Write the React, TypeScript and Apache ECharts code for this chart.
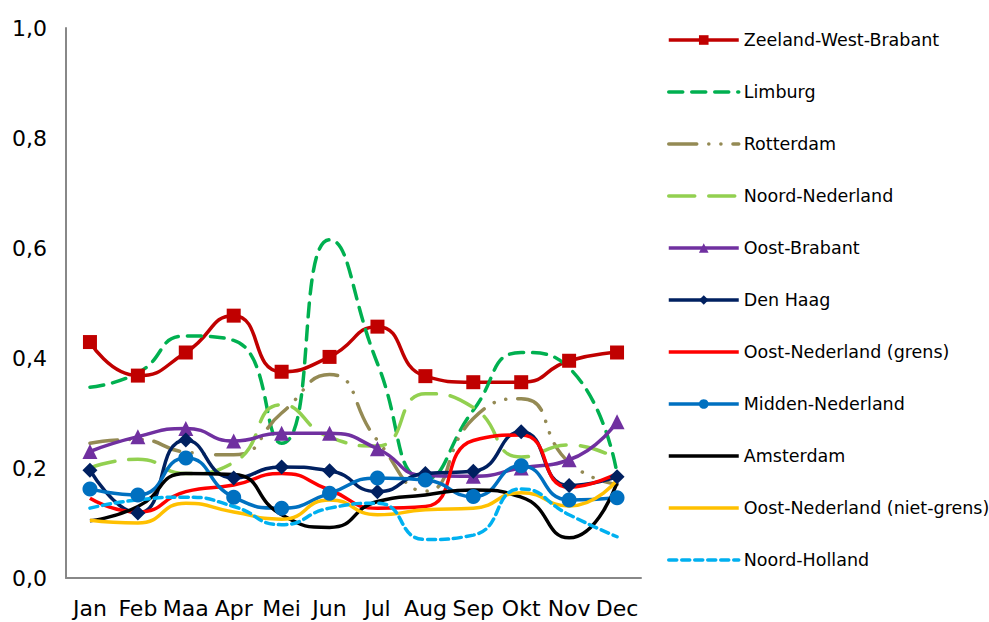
import React, { useEffect, useRef } from "react";
import * as echarts from "echarts";

const months = ["Jan", "Feb", "Maa", "Apr", "Mei", "Jun", "Jul", "Aug", "Sep", "Okt", "Nov", "Dec"];

const zeelandWestBrabant = [0.429, 0.368, 0.41, 0.477, 0.375, 0.402, 0.457, 0.367, 0.356, 0.356, 0.395, 0.41];
const limburg = [0.347, 0.373, 0.44, 0.432, 0.245, 0.615, 0.39, 0.18, 0.305, 0.41, 0.382, 0.19];
const rotterdam = [0.245, 0.252, 0.229, 0.224, 0.3, 0.37, 0.25, 0.158, 0.29, 0.326, 0.21, 0.17];
const noordNederland = [0.2, 0.216, 0.19, 0.21, 0.315, 0.256, 0.24, 0.335, 0.31, 0.22, 0.242, 0.216];
const oostBrabant = [0.23, 0.257, 0.272, 0.249, 0.263, 0.263, 0.235, 0.186, 0.185, 0.2, 0.215, 0.284];
const denHaag = [0.196, 0.118, 0.251, 0.182, 0.202, 0.195, 0.157, 0.19, 0.194, 0.266, 0.168, 0.184];
const oostNederlandGrens = [0.145, 0.12, 0.157, 0.169, 0.19, 0.16, 0.127, 0.13, 0.25, 0.26, 0.165, 0.19];
const middenNederland = [0.162, 0.151, 0.218, 0.147, 0.127, 0.154, 0.182, 0.178, 0.148, 0.204, 0.142, 0.146];
const amsterdam = [0.104, 0.13, 0.19, 0.188, 0.115, 0.092, 0.139, 0.151, 0.16, 0.147, 0.073, 0.173];
const oostNederlandNietGrens = [0.105, 0.1, 0.136, 0.12, 0.107, 0.142, 0.115, 0.124, 0.127, 0.155, 0.131, 0.178];
const noordHolland = [0.127, 0.142, 0.147, 0.13, 0.097, 0.127, 0.136, 0.07, 0.078, 0.162, 0.115, 0.075];

const yTicks = ["0,0", "0,2", "0,4", "0,6", "0,8", "1,0"];

const FONT = "DejaVu Sans";

export default function App() {
  const ref = useRef<HTMLDivElement>(null);
  useEffect(() => {
    if (!ref.current) return;
    const chart = echarts.init(ref.current, undefined, { renderer: "svg" });
    const mk = (
      name: string,
      data: number[],
      color: string,
      opts: { type?: any; symbol?: string; symbolSize?: number; width?: number; cap?: string }
    ) => ({
      name,
      type: "line",
      data,
      smooth: 0.55,
      symbol: opts.symbol || "circle",
      symbolSize: opts.symbolSize || 0,
      showSymbol: !!opts.symbol,
      itemStyle: opts.symbol ? { color } : { color, opacity: 0 },
      lineStyle: { color, width: opts.width || 3.5, type: opts.type || "solid", cap: opts.cap || "butt", opacity: 1 },
      emphasis: { disabled: true },
    });
    const series = [
      mk("Zeeland-West-Brabant", zeelandWestBrabant, "#C00000", { symbol: "rect", symbolSize: 14 }),
      mk("Limburg", limburg, "#00B050", { type: [14, 9], width: 3.5, cap: "round" }),
      mk("Rotterdam", rotterdam, "#948A54", { type: [28, 12, 0.1, 12, 0.1, 12], width: 3.5, cap: "round" }),
      mk("Noord-Nederland", noordNederland, "#92D050", { type: [26, 14], width: 3.5, cap: "round" }),
      mk("Oost-Brabant", oostBrabant, "#7030A0", { symbol: "triangle", symbolSize: 15 }),
      mk("Den Haag", denHaag, "#002060", { symbol: "diamond", symbolSize: 15 }),
      mk("Oost-Nederland (grens)", oostNederlandGrens, "#FF0000", {}),
      mk("Midden-Nederland", middenNederland, "#0070C0", { symbol: "circle", symbolSize: 15 }),
      mk("Amsterdam", amsterdam, "#000000", {}),
      mk("Oost-Nederland (niet-grens)", oostNederlandNietGrens, "#FFC000", {}),
      mk("Noord-Holland", noordHolland, "#00B0F0", { type: [8, 5], width: 3.5, cap: "round" }),
    ];
    chart.setOption({
      animation: false,
      backgroundColor: "#ffffff",
      grid: { left: 66, right: 348, top: 28, bottom: 44, containLabel: false },
      legend: {
        orient: "vertical",
        left: 662,
        top: 26,
        itemWidth: 70,
        itemHeight: 12,
        itemGap: 34,
        lineStyle: { width: 3.5 },
        textStyle: { fontFamily: FONT, fontSize: 17.5, color: "#000" },
        data: series.map((s) => s.name),
      },
      xAxis: {
        type: "category",
        data: months,
        boundaryGap: true,
        axisLine: { lineStyle: { color: "#888888", width: 2 } },
        axisTick: { alignWithLabel: true, length: 5, lineStyle: { color: "#888888" } },
        axisLabel: { fontFamily: FONT, fontSize: 22, color: "#000", margin: 19, interval: 0 },
      },
      yAxis: {
        type: "value",
        min: 0,
        max: 1,
        interval: 0.2,
        splitLine: { show: false },
        axisLine: { show: true, lineStyle: { color: "#888888", width: 2 } },
        axisTick: { show: false },
        axisLabel: {
          fontFamily: FONT,
          fontSize: 22,
          color: "#000",
          margin: 19,
          formatter: (v: number) => yTicks[Math.round(v * 5)],
        },
      },
      series,
    });
    return () => chart.dispose();
  }, []);
  return <div ref={ref} style={{ width: 989, height: 622, position: "absolute", left: 0, top: 0 }} />;
}
